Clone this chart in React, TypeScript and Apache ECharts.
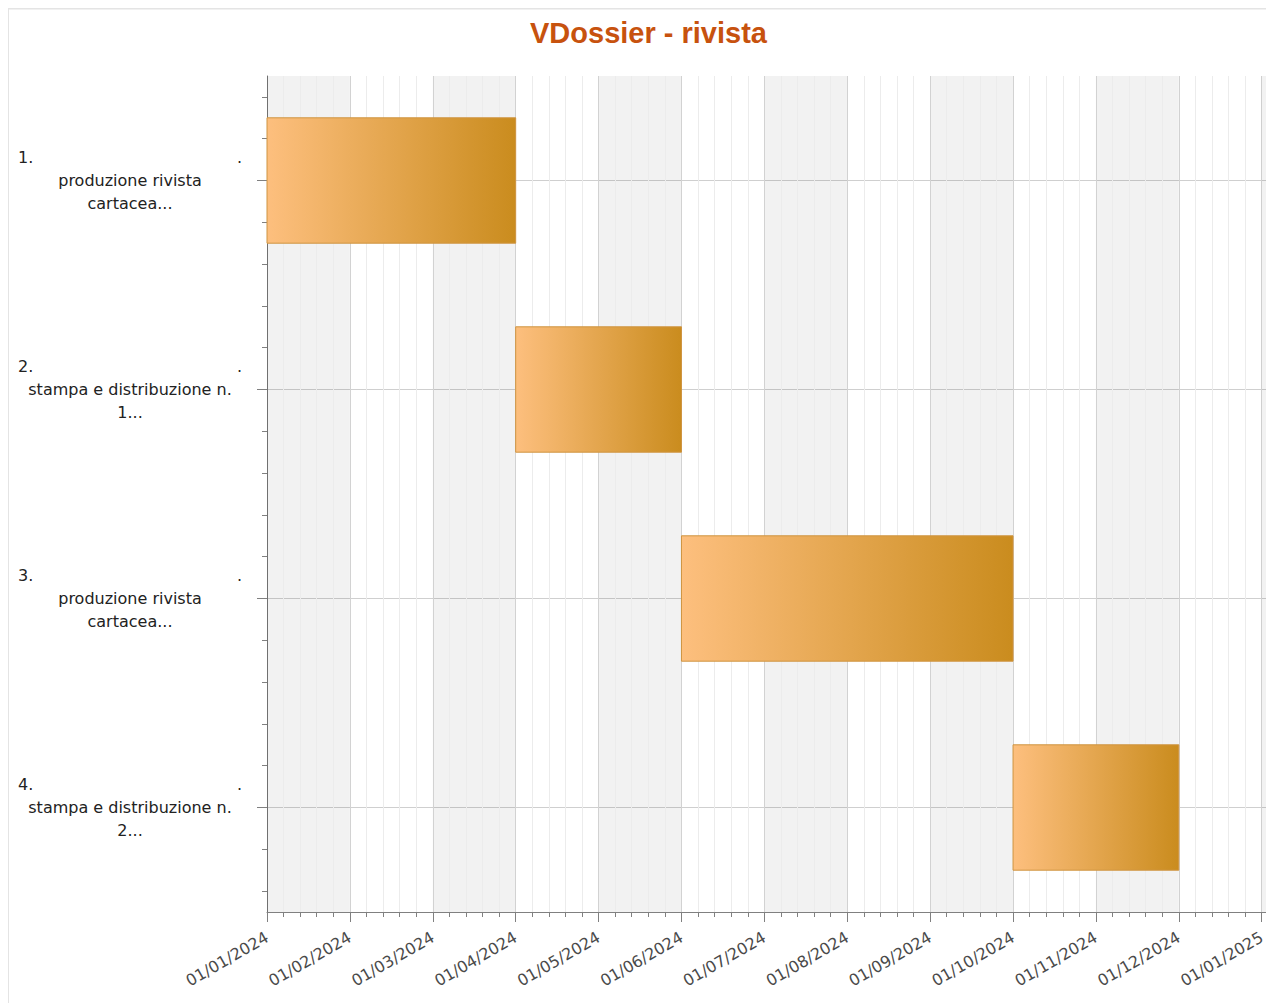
import React, { useEffect, useRef } from 'react';
import * as echarts from 'echarts';

const titleText = 'VDossier - rivista';
const taskNumbers = ['1.', '2.', '3.', '4.'];
const taskLine1 = ['produzione rivista', 'stampa e distribuzione n.', 'produzione rivista', 'stampa e distribuzione n.'];
const taskLine2 = ['cartacea...', '1...', 'cartacea...', '2...'];
const taskStart = ['01/01/2024', '01/04/2024', '01/06/2024', '01/10/2024'];
const taskEnd = ['01/04/2024', '01/06/2024', '01/10/2024', '01/12/2024'];
const monthTickLabels = [
  '01/01/2024', '01/02/2024', '01/03/2024', '01/04/2024', '01/05/2024', '01/06/2024', '01/07/2024',
  '01/08/2024', '01/09/2024', '01/10/2024', '01/11/2024', '01/12/2024', '01/01/2025',
];
const axisMaxMonths = 12.1;

function toMonthIndex(s: string): number {
  const [d, m, y] = s.split('/').map(Number);
  const dim = new Date(y, m, 0).getDate();
  return (y - 2024) * 12 + (m - 1) + (d - 1) / dim;
}

const BAND = 'rgba(0,0,0,0.052)';
const FONT = 'DejaVu Sans';

export default function App() {
  const ref = useRef<HTMLDivElement>(null);
  useEffect(() => {
    if (!ref.current) return;
    const chart = echarts.init(ref.current, undefined, { renderer: 'svg' });
    const data = taskStart.map((s, i) => [toMonthIndex(s), toMonthIndex(taskEnd[i]), i]);
    const gradient = new echarts.graphic.LinearGradient(0, 0, 1, 0, [
      { offset: 0, color: '#fdbf7e' },
      { offset: 1, color: '#ca8c1e' },
    ]);
    const labelRich = { align: 'center', fontFamily: FONT, fontSize: 16, color: '#222222', lineHeight: 23 };
    chart.setOption({
      animation: false,
      backgroundColor: '#ffffff',
      title: {
        text: titleText,
        left: 517,
        top: 5,
        textStyle: { fontFamily: 'Liberation Sans', fontWeight: 'bold', fontSize: 29, color: '#c7520e' },
      },
      graphic: [
        { type: 'line', shape: { x1: 0, y1: 0.5, x2: 1266, y2: 0.5 }, style: { stroke: '#e4e4e4', lineWidth: 2 } },
        { type: 'line', shape: { x1: 0, y1: 0, x2: 0, y2: 995 }, style: { stroke: '#e4e4e4', lineWidth: 2 } },
      ],
      grid: { left: 259, top: 68, width: 1003, height: 836, containLabel: false, outerBoundsMode: 'none' },
      xAxis: {
        type: 'value',
        min: 0,
        max: axisMaxMonths,
        interval: 1,
        axisLine: { onZero: false, lineStyle: { color: '#808080', width: 1 } },
        axisTick: { show: true, length: 10, lineStyle: { color: '#808080' }, customValues: monthTickLabels.map((_, i) => i) },
        minorTick: { show: true, splitNumber: 5, length: 5, lineStyle: { color: '#808080' } },
        splitLine: { show: true, lineStyle: { color: '#d2d2d2', width: 1 } },
        minorSplitLine: { show: true, lineStyle: { color: '#ececec', width: 1 } },
        splitArea: { show: true, areaStyle: { color: [BAND, 'rgba(255,255,255,0)'] } },
        axisLabel: {
          rotate: 30,
          margin: 24,
          fontFamily: FONT,
          fontSize: 16,
          color: '#4a4a4a',
          formatter: (v: number) => (Number.isInteger(v) && monthTickLabels[v] ? monthTickLabels[v] : ''),
        },
      },
      yAxis: {
        type: 'value',
        min: -0.5,
        max: 3.5,
        splitNumber: 4,
        inverse: true,
        axisLine: { show: true, onZero: false, lineStyle: { color: '#707070', width: 1 } },
        axisTick: { show: true, length: 10, lineStyle: { color: '#808080' }, customValues: taskNumbers.map((_, i) => i) },
        minorTick: { show: true, splitNumber: 5, length: 5, lineStyle: { color: '#808080' } },
        splitLine: { show: true, lineStyle: { color: '#cfcfcf', width: 1 } },
        axisLabel: {
          margin: 25,
          width: 224,
          fontFamily: FONT,
          fontSize: 16,
          color: '#222222',
          formatter: (v: number) => {
            if (!Number.isInteger(v) || v < 0 || v >= taskNumbers.length) return '';
            return `{l|${taskNumbers[v]}}{r|.}\n{c|${taskLine1[v]}}\n{c|${taskLine2[v]}}`;
          },
          rich: {
            l: { ...labelRich, align: 'left' },
            r: { ...labelRich, align: 'right' },
            c: labelRich,
          },
        },
      },
      series: [
        {
          type: 'custom',
          data,
          encode: { x: [0, 1], y: 2 },
          renderItem: (params: any, api: any) => {
            const s = api.coord([api.value(0), api.value(2)]);
            const e = api.coord([api.value(1), api.value(2)]);
            const h = api.size([0, 1])[1] * 0.6;
            return {
              type: 'rect',
              shape: { x: s[0], y: s[1] - h / 2, width: e[0] - s[0], height: h },
              style: { fill: gradient, stroke: '#cf9440', lineWidth: 1 },
            };
          },
          markArea: {
            silent: true,
            itemStyle: { color: BAND },
            data: [[{ xAxis: monthTickLabels.length - 1 }, { xAxis: axisMaxMonths }]],
          },
        },
      ],
    });
    return () => chart.dispose();
  }, []);
  return <div ref={ref} style={{ width: 1266, height: 995 }} />;
}
